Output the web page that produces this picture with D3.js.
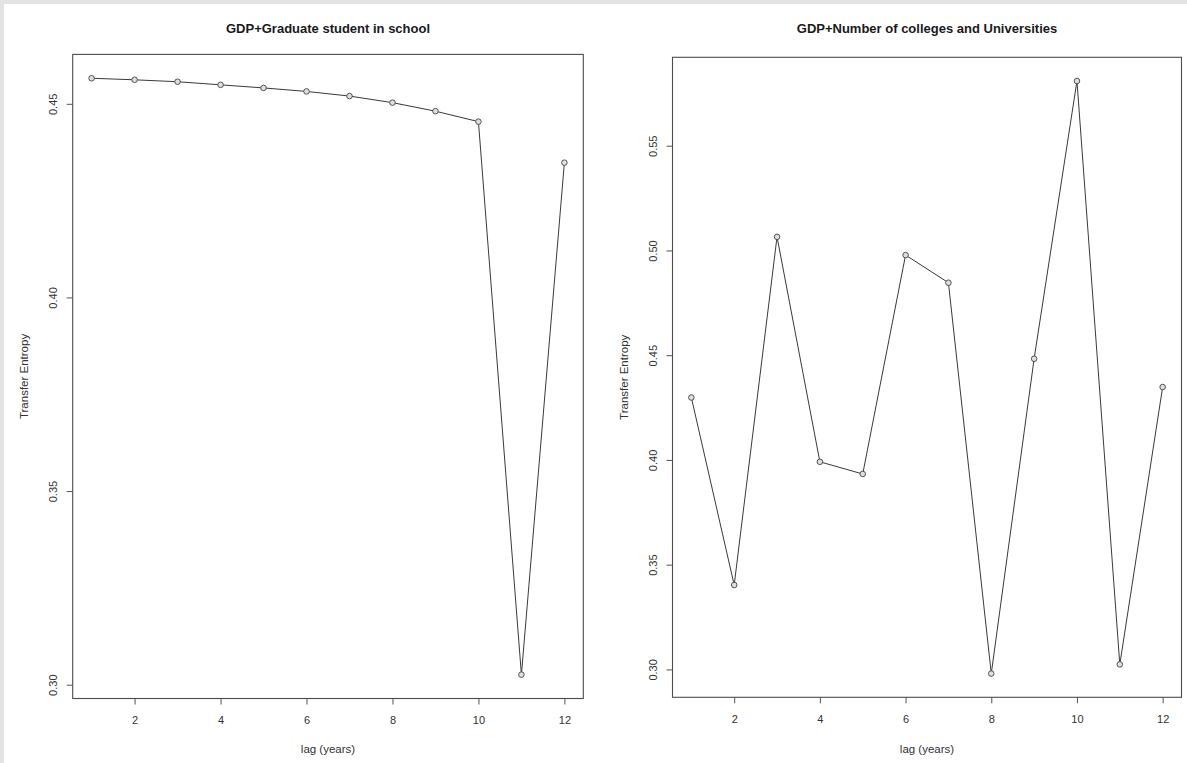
<!DOCTYPE html>
<html>
<head>
<meta charset="utf-8">
<script src="https://cdn.jsdelivr.net/npm/d3@7"></script>
<style>
  html, body { margin: 0; padding: 0; background: #ffffff; }
  svg { display: block; }
  text { font-family: "Liberation Sans", Arial, Helvetica, sans-serif; }
</style>
</head>
<body>
<svg id="chart" width="1187" height="763"></svg>
<script>
// ---- data ----
const lags = [1, 2, 3, 4, 5, 6, 7, 8, 9, 10, 11, 12];
const gradStudentTE = [0.4566, 0.4562, 0.4557, 0.4549, 0.4541, 0.4532, 0.4520, 0.4503, 0.4481, 0.4454, 0.3026, 0.4348];
const collegesTE = [0.4298, 0.3403, 0.5065, 0.3991, 0.3933, 0.4978, 0.4846, 0.2980, 0.4483, 0.5809, 0.3024, 0.4348];
const xTickValues = [2, 4, 6, 8, 10, 12];
const yTicksLeft = [0.30, 0.35, 0.40, 0.45];
const yTicksRight = [0.30, 0.35, 0.40, 0.45, 0.50, 0.55];
const titleLeft = "GDP+Graduate student in school";
const titleRight = "GDP+Number of colleges and Universities";
const xLabel = "lag (years)";
const yLabel = "Transfer Entropy";

const svg = d3.select("#chart");

// page frame (light gray strip at top and left)
svg.append("rect").attr("x", 0).attr("y", 0).attr("width", 1187).attr("height", 763).attr("fill", "#ffffff");
svg.append("rect").attr("x", 0).attr("y", 0).attr("width", 1187).attr("height", 4).attr("fill", "#e3e3e3");
svg.append("rect").attr("x", 0).attr("y", 0).attr("width", 4).attr("height", 763).attr("fill", "#e3e3e3");

function padded(ext, f) {
  const s = ext[1] - ext[0];
  return [ext[0] - f * s, ext[1] + f * s];
}

function panel(cfg) {
  const { left, right, top, bottom, values, yTicks, title } = cfg;
  const x = d3.scaleLinear().domain(padded(d3.extent(lags), 0.04)).range([left, right]);
  const y = d3.scaleLinear().domain(padded(d3.extent(values), 0.04)).range([bottom, top]);
  const g = svg.append("g");

  // title
  g.append("text")
    .attr("x", (left + right) / 2).attr("y", 33)
    .attr("text-anchor", "middle")
    .attr("font-size", "13px").attr("font-weight", "bold").attr("fill", "#1a1a1a")
    .text(title);

  // x axis
  const xa = g.append("g").attr("transform", `translate(0,${bottom})`)
    .call(d3.axisBottom(x).tickValues(xTickValues).tickSize(6).tickFormat(d3.format("d")));
  xa.select(".domain").remove();
  xa.selectAll(".tick line").attr("stroke", "#555");
  xa.selectAll(".tick text").attr("y", 25.5).attr("dy", 0)
    .attr("font-size", "11px").attr("fill", "#333");

  // y axis
  const ya = g.append("g").attr("transform", `translate(${left},0)`)
    .call(d3.axisLeft(y).tickValues(yTicks).tickSize(6).tickFormat(d3.format(".2f")));
  ya.select(".domain").remove();
  ya.selectAll(".tick line").attr("stroke", "#555");
  ya.selectAll(".tick text")
    .attr("x", 0).attr("y", 0).attr("dy", 0)
    .attr("transform", "translate(-16,0) rotate(-90)")
    .attr("text-anchor", "middle")
    .attr("font-size", "11px").attr("fill", "#333");

  // axis titles
  g.append("text")
    .attr("x", (left + right) / 2).attr("y", 752.5)
    .attr("text-anchor", "middle").attr("font-size", "11.5px").attr("fill", "#333")
    .text(xLabel);
  g.append("text")
    .attr("transform", `translate(${left - 45},${(top + bottom) / 2}) rotate(-90)`)
    .attr("text-anchor", "middle").attr("font-size", "11.5px").attr("fill", "#333")
    .text(yLabel);

  // box
  g.append("rect")
    .attr("x", left).attr("y", top).attr("width", right - left).attr("height", bottom - top)
    .attr("fill", "none").attr("stroke", "#4d4d4d").attr("stroke-width", 1.1);

  // line + points
  const pts = lags.map((l, i) => [l, values[i]]);
  g.append("path")
    .datum(pts)
    .attr("fill", "none").attr("stroke", "#3a3a3a").attr("stroke-width", 1)
    .attr("d", d3.line().x(d => x(d[0])).y(d => y(d[1])));
  g.selectAll("circle.pt").data(pts).enter().append("circle")
    .attr("class", "pt")
    .attr("cx", d => x(d[0])).attr("cy", d => y(d[1])).attr("r", 2.8)
    .attr("fill", "#dedede").attr("stroke", "#444").attr("stroke-width", 0.9);
}

panel({ left: 72.7, right: 583.3, top: 54.4, bottom: 698.5, values: gradStudentTE, yTicks: yTicksLeft, title: titleLeft });
panel({ left: 672.5, right: 1181.5, top: 57.3, bottom: 697.3, values: collegesTE, yTicks: yTicksRight, title: titleRight });
</script>
</body>
</html>
